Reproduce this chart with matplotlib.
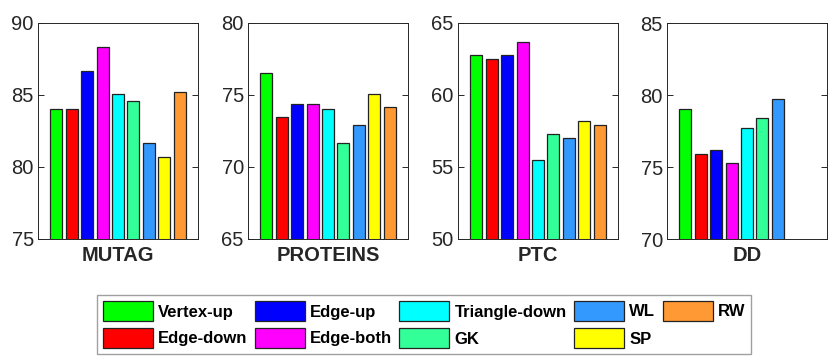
import matplotlib
matplotlib.use("Agg")
import matplotlib.pyplot as plt
import numpy as np

plt.rcParams["font.family"] = ["Liberation Sans", "DejaVu Sans"]

datasets = ["MUTAG", "PROTEINS", "PTC", "DD"]
methods = ["Vertex-up", "Edge-down", "Edge-up", "Edge-both", "Triangle-down",
           "GK", "WL", "SP", "RW"]
colors = ["#00ff00", "#ff0000", "#0000ff", "#ff00ff", "#00ffff",
          "#33ff99", "#3399ff", "#ffff00", "#ff9933"]

mutag = [84.0, 84.0, 86.7, 88.3, 85.1, 84.6, 81.7, 80.7, 85.2]
proteins = [76.5, 73.5, 74.4, 74.4, 74.0, 71.7, 72.9, 75.1, 74.2]
ptc = [62.8, 62.5, 62.8, 63.7, 55.5, 57.3, 57.0, 58.2, 57.9]
dd = [79.0, 75.9, 76.2, 75.3, 77.7, 78.4, 79.7, np.nan, np.nan]
values = [mutag, proteins, ptc, dd]
ylims = [(75, 90), (65, 80), (50, 65), (70, 85)]

W, H = 831, 362
fig = plt.figure(figsize=(W / 100, H / 100), dpi=100)
lefts = [38, 248, 458, 667]
x = np.arange(1, len(methods) + 1)

handles = None
for left, name, vals, (lo, hi) in zip(lefts, datasets, values, ylims):
    ax = fig.add_axes([left / W, (H - 239) / H, 160 / W, 216 / H])
    bars = ax.bar(x, vals, width=0.78, color=colors, edgecolor="#222222",
                  linewidth=0.9, zorder=2)
    if handles is None:
        handles = bars
    ax.set_xlim(-0.2, 10.2)
    ax.set_ylim(lo, hi)
    ax.set_yticks(np.arange(lo, hi + 1, 5))
    ax.set_xticks([])
    ax.tick_params(axis="y", direction="in", left=True, right=True, length=4,
                   width=0.7, labelsize=14.5, colors="#262626", pad=3)
    for s in ax.spines.values():
        s.set_color("#262626")
        s.set_linewidth(0.7)
    ax.set_xlabel(name, fontsize=14.5, fontweight="bold", color="#262626",
                  labelpad=5)

leg = fig.legend(handles, methods, ncol=5, loc="center",
                 bbox_to_anchor=((97 + 751) / 2 / W, (H - 324.5) / H),
                 prop={"weight": "bold", "size": 12}, frameon=True,
                 fancybox=False, handlelength=3.0, handleheight=1.5,
                 handletextpad=0.3, columnspacing=0.45, labelspacing=0.4,
                 borderpad=0.35, borderaxespad=0)
leg.get_frame().set_edgecolor("#888888")
leg.get_frame().set_linewidth(1.0)

fig.savefig("out.png", dpi=100)
